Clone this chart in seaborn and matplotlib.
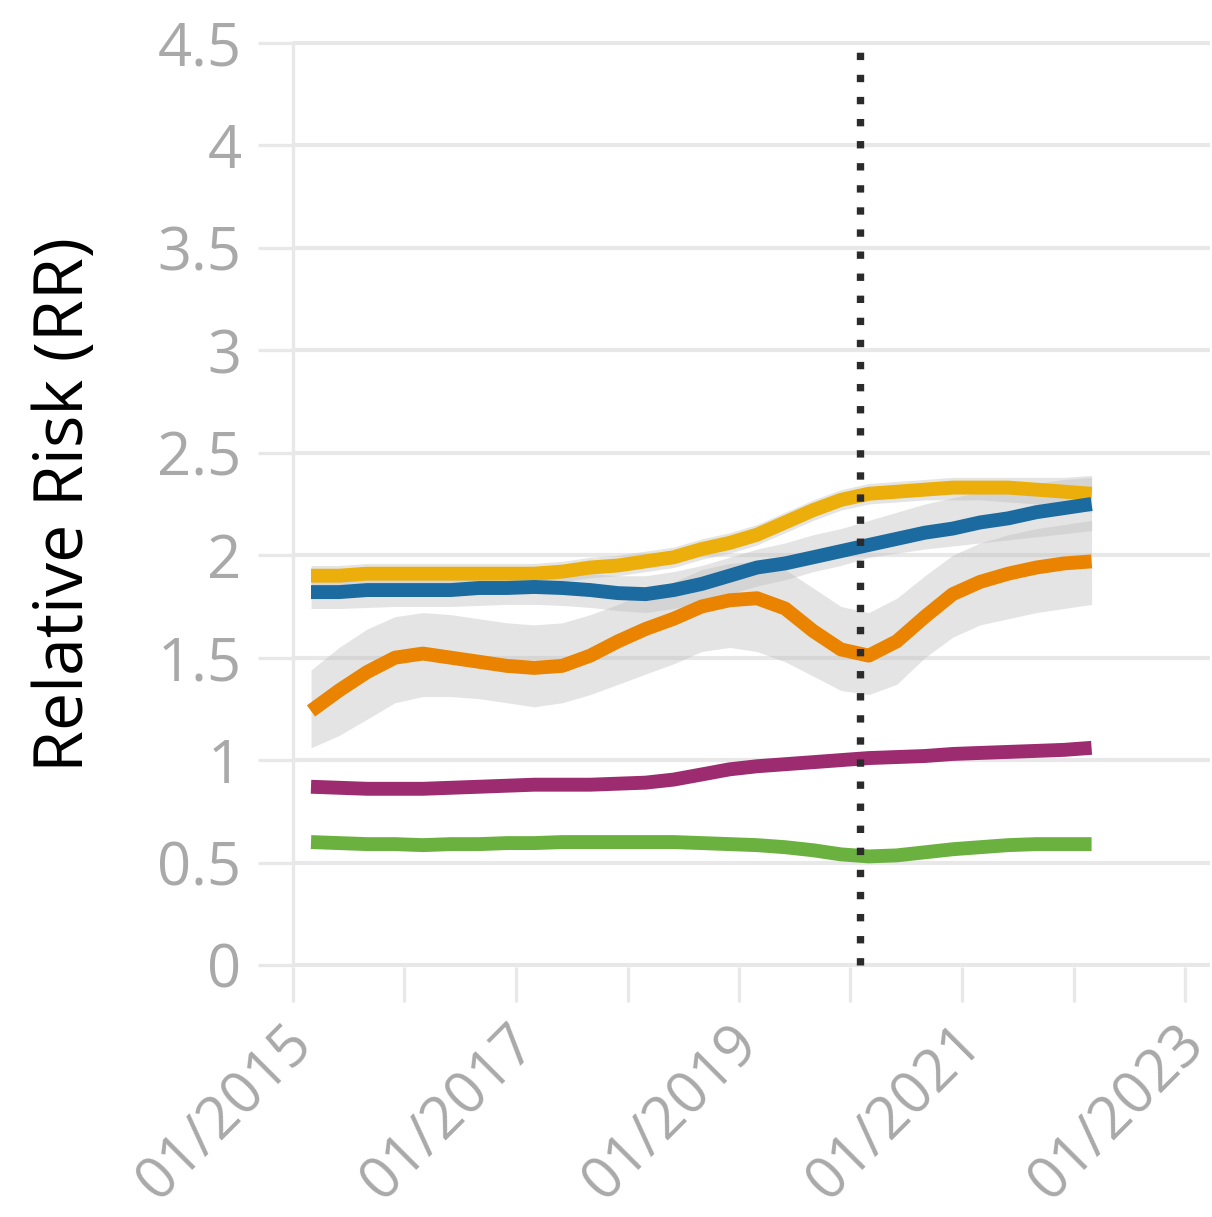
import numpy as np
import pandas as pd
import matplotlib
matplotlib.use("Agg")
import matplotlib.pyplot as plt
import matplotlib.dates as mdates
import matplotlib.transforms as mtransforms
import seaborn as sns

# ---------------- data (quarterly) ----------------
dates = ["2015-03-01", "2015-06-01", "2015-09-01", "2015-12-01",
         "2016-03-01", "2016-06-01", "2016-09-01", "2016-12-01",
         "2017-03-01", "2017-06-01", "2017-09-01", "2017-12-01",
         "2018-03-01", "2018-06-01", "2018-09-01", "2018-12-01",
         "2019-03-01", "2019-06-01", "2019-09-01", "2019-12-01",
         "2020-03-01", "2020-06-01", "2020-09-01", "2020-12-01",
         "2021-03-01", "2021-06-01", "2021-09-01", "2021-12-01",
         "2022-03-01"]

yellow = [1.90, 1.90, 1.91, 1.91, 1.91, 1.91, 1.91, 1.91, 1.91, 1.92, 1.94, 1.95, 1.97, 1.99,
          2.03, 2.06, 2.10, 2.16, 2.22, 2.27, 2.30, 2.31, 2.32, 2.33, 2.33, 2.33, 2.32, 2.31, 2.30]
yellow_lo = [1.85, 1.85, 1.86, 1.86, 1.86, 1.86, 1.86, 1.86, 1.86, 1.87, 1.89, 1.90, 1.92, 1.94,
             1.98, 2.01, 2.05, 2.11, 2.17, 2.22, 2.25, 2.26, 2.27, 2.27, 2.27, 2.26, 2.25, 2.23, 2.21]
yellow_hi = [1.95, 1.95, 1.96, 1.96, 1.96, 1.96, 1.96, 1.96, 1.96, 1.97, 1.99, 2.00, 2.02, 2.04,
             2.08, 2.11, 2.15, 2.21, 2.27, 2.32, 2.35, 2.36, 2.37, 2.38, 2.38, 2.38, 2.38, 2.38, 2.39]

blue = [1.82, 1.82, 1.83, 1.83, 1.83, 1.83, 1.84, 1.84, 1.845, 1.84, 1.83, 1.815, 1.81, 1.83,
        1.86, 1.90, 1.94, 1.96, 1.99, 2.02, 2.05, 2.08, 2.11, 2.13, 2.16, 2.18, 2.21, 2.23, 2.25]
blue_lo = [1.74, 1.74, 1.745, 1.75, 1.75, 1.75, 1.755, 1.76, 1.76, 1.755, 1.745, 1.73, 1.72, 1.74,
           1.77, 1.81, 1.85, 1.88, 1.92, 1.95, 1.99, 2.01, 2.03, 2.045, 2.06, 2.075, 2.09, 2.105, 2.12]
blue_hi = [1.90, 1.90, 1.91, 1.91, 1.91, 1.91, 1.92, 1.92, 1.93, 1.92, 1.91, 1.90, 1.90, 1.92,
           1.95, 1.99, 2.03, 2.06, 2.10, 2.13, 2.17, 2.21, 2.25, 2.28, 2.31, 2.33, 2.35, 2.37, 2.38]

orange = [1.24, 1.34, 1.43, 1.50, 1.52, 1.50, 1.48, 1.46, 1.45, 1.46, 1.51, 1.58, 1.64, 1.69,
          1.75, 1.78, 1.79, 1.74, 1.63, 1.54, 1.51, 1.58, 1.70, 1.81, 1.87, 1.91, 1.94, 1.96, 1.97]
orange_lo = [1.06, 1.12, 1.20, 1.28, 1.31, 1.31, 1.30, 1.28, 1.26, 1.28, 1.32, 1.37, 1.42, 1.47,
             1.53, 1.55, 1.53, 1.48, 1.41, 1.34, 1.32, 1.37, 1.50, 1.60, 1.66, 1.69, 1.72, 1.74, 1.76]
orange_hi = [1.44, 1.55, 1.64, 1.70, 1.72, 1.71, 1.69, 1.67, 1.66, 1.67, 1.71, 1.76, 1.82, 1.87,
             1.93, 1.96, 1.97, 1.93, 1.84, 1.75, 1.72, 1.79, 1.90, 2.00, 2.06, 2.10, 2.13, 2.15, 2.17]

purple = [0.87, 0.865, 0.86, 0.86, 0.86, 0.865, 0.87, 0.875, 0.88, 0.88, 0.88, 0.885, 0.89, 0.905,
          0.93, 0.955, 0.97, 0.98, 0.99, 1.00, 1.01, 1.015, 1.02, 1.03, 1.035, 1.04, 1.045, 1.05, 1.06]
green = [0.60, 0.595, 0.59, 0.59, 0.585, 0.59, 0.59, 0.595, 0.595, 0.60, 0.60, 0.60, 0.60, 0.60,
         0.595, 0.59, 0.585, 0.575, 0.56, 0.54, 0.53, 0.535, 0.55, 0.565, 0.575, 0.585, 0.59, 0.59, 0.59]

series_names = ["Green", "Purple", "Orange", "Yellow", "Blue"]
series_values = [green, purple, orange, yellow, blue]
series_colors = ["#6BB13F", "#9C2B70", "#EA8300", "#EBAE0A", "#1B6AA0"]

band_series = [(orange_lo, orange_hi), (blue_lo, blue_hi), (yellow_lo, yellow_hi)]

event_date = "2020-02-01"

y_ticks = [0, 0.5, 1, 1.5, 2, 2.5, 3, 3.5, 4, 4.5]
y_ticklabels = ["0", "0.5", "1", "1.5", "2", "2.5", "3", "3.5", "4", "4.5"]
x_tick_dates = ["2015-01-01", "2016-01-01", "2017-01-01", "2018-01-01", "2019-01-01",
                "2020-01-01", "2021-01-01", "2022-01-01", "2023-01-01"]
x_ticklabels = ["01/2015", "", "01/2017", "", "01/2019", "", "01/2021", "", "01/2023"]
y_label = "Relative Risk (RR)"

# ---------------- build long table ----------------
dt = pd.to_datetime(dates)
df = pd.concat([pd.DataFrame({"date": dt, "rr": v, "series": n})
                for n, v in zip(series_names, series_values)], ignore_index=True)

sns.set_theme(style="white")
plt.rcParams["font.family"] = ["Open Sans", "DejaVu Sans"]

W, H = 1212, 1217
fig = plt.figure(figsize=(W / 100, H / 100), dpi=100)

# axes geometry in pixels (y=0 at 965, y=4.5 at 43; x 2015-01 at 293)
pad_v = 0.012
px_per_unit = (965 - 43) / 4.5
top_px = 43 - pad_v * px_per_unit
bot_px = 965 + pad_v * px_per_unit
left_px, right_px = 293, 1210
ax = fig.add_axes([left_px / W, 1 - bot_px / H, (right_px - left_px) / W, (bot_px - top_px) / H])

grid_col = "#E8E8E8"
tick_col = "#A9A9A9"

# confidence bands
for lo, hi in band_series:
    ax.fill_between(dt, lo, hi, color="#BDBDBD", alpha=0.4, linewidth=0, zorder=1)

sns.lineplot(data=df, x="date", y="rr", hue="series", hue_order=series_names,
             palette=dict(zip(series_names, series_colors)), linewidth=10,
             legend=False, errorbar=None, ax=ax, solid_capstyle="butt",
             solid_joinstyle="round", zorder=3)

# event line
ev = pd.Timestamp(event_date)
ax.plot([ev, ev], [0, 4.5], color="#2B2B2B", linewidth=5.3, linestyle=(0, (1, 2.0)),
        dash_capstyle="butt", zorder=5)

# axes limits
x0 = mdates.date2num(pd.Timestamp("2015-01-01"))
px_per_day = 111.5 / 365.25
x1 = x0 + (right_px - left_px) / px_per_day
ax.set_xlim(x0, x1)
ax.set_ylim(-pad_v, 4.5 + pad_v)

ax.set_yticks(y_ticks)
ax.set_yticklabels(y_ticklabels)
ax.set_xticks(pd.to_datetime(x_tick_dates))
ax.set_xticklabels(x_ticklabels)

ax.yaxis.grid(True, color=grid_col, linewidth=3)
ax.xaxis.grid(False)
ax.set_axisbelow(True)

for s in ["top", "right", "bottom"]:
    ax.spines[s].set_visible(False)
ax.spines["left"].set_color(grid_col)
ax.spines["left"].set_linewidth(2.4)
ax.spines["left"].set_bounds(0, 4.5)

ax.tick_params(axis="y", length=25, width=2.4, color=grid_col, pad=12,
               labelsize=43, labelcolor=tick_col, left=True)
ax.tick_params(axis="x", length=25, width=2.4, color=grid_col, pad=24,
               labelsize=42, labelcolor=tick_col, bottom=True)

offset = mtransforms.ScaledTranslation(11 / 100, 0, fig.dpi_scale_trans)
for lab in ax.get_xticklabels():
    lab.set_rotation(45)
    lab.set_ha("right")
    lab.set_va("center")
    lab.set_rotation_mode("anchor")
    lab.set_transform(lab.get_transform() + offset)

ax.set_xlabel("")
ax.set_ylabel(y_label, fontsize=49, color="black", labelpad=42)

fig.savefig("out.png", dpi=100, facecolor="white")
